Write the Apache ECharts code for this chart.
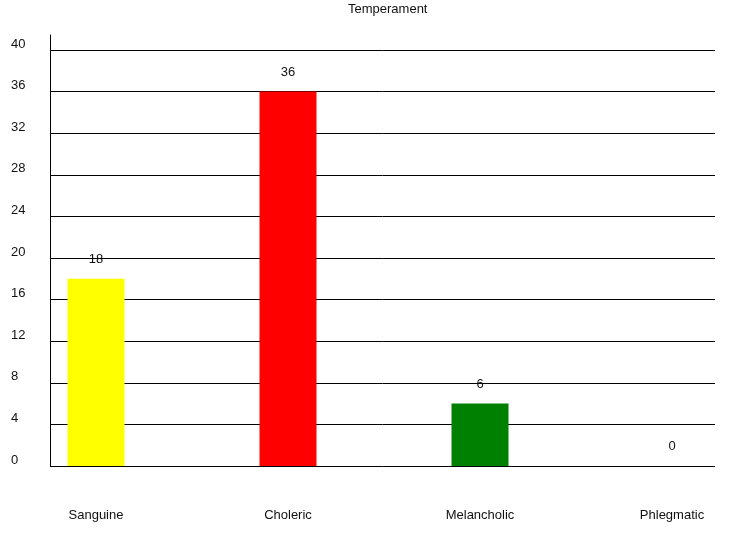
<!DOCTYPE html>
<html>
<head>
<meta charset="utf-8">
<script src="https://cdn.jsdelivr.net/npm/echarts@6/dist/echarts.min.js"></script>
<style>html,body{margin:0;padding:0;background:#fff}#c{width:731px;height:540px}</style>
</head>
<body>
<div id="c"></div>
<script>
var categories = ['Sanguine', 'Choleric', 'Melancholic', 'Phlegmatic'];
var values = [18, 36, 6, 0];
var barColors = ['#ffff00', '#ff0000', '#008000', '#0000ff'];
var yTicks = [0, 4, 8, 12, 16, 20, 24, 28, 32, 36, 40];

var font = 'Liberation Sans, Arial, sans-serif';
var chart = echarts.init(document.getElementById('c'));
chart.setOption({
  animation: false,
  title: {
    text: 'Temperament', left: 343, top: -2,
    textStyle: { fontSize: 13, fontWeight: 'normal', color: '#111', fontFamily: font }
  },
  grid: [
    { left: 50, right: 16, top: 50, bottom: 74 },
    { left: 96, right: 59, top: 50, bottom: 74 },
    { left: 50, right: 16, top: 35, bottom: 74 }
  ],
  xAxis: [
    { gridIndex: 0, type: 'value', show: false },
    {
      gridIndex: 1, type: 'category', data: categories, boundaryGap: false,
      axisLine: { show: false }, axisTick: { show: false }, splitLine: { show: false },
      axisLabel: { margin: 43, fontSize: 13, color: '#111', fontFamily: font, interval: 0 }
    },
    { gridIndex: 2, type: 'value', show: false }
  ],
  yAxis: [
    {
      gridIndex: 0, type: 'value', min: yTicks[0], max: yTicks[yTicks.length - 1], interval: 4,
      axisLine: { show: false }, axisTick: { show: false },
      splitLine: { show: true, lineStyle: { color: '#000', width: 1 } },
      axisLabel: { align: 'left', verticalAlign: 'bottom', lineHeight: 12, margin: 39, fontSize: 13, color: '#111', fontFamily: font }
    },
    { gridIndex: 1, type: 'value', min: 0, max: 40, show: false },
    {
      gridIndex: 2, type: 'value', min: 0, max: 1,
      axisLine: { show: true, lineStyle: { color: '#000', width: 1 } },
      axisTick: { show: false }, axisLabel: { show: false }, splitLine: { show: false }
    }
  ],
  series: [{
    type: 'bar', xAxisIndex: 1, yAxisIndex: 1, barWidth: 57, clip: false,
    data: values.map(function (v, i) { return { value: v, itemStyle: { color: barColors[i] } }; }),
    label: { show: true, position: 'top', distance: 13, fontSize: 13, color: '#111', fontFamily: font }
  }]
});
</script>
</body>
</html>
